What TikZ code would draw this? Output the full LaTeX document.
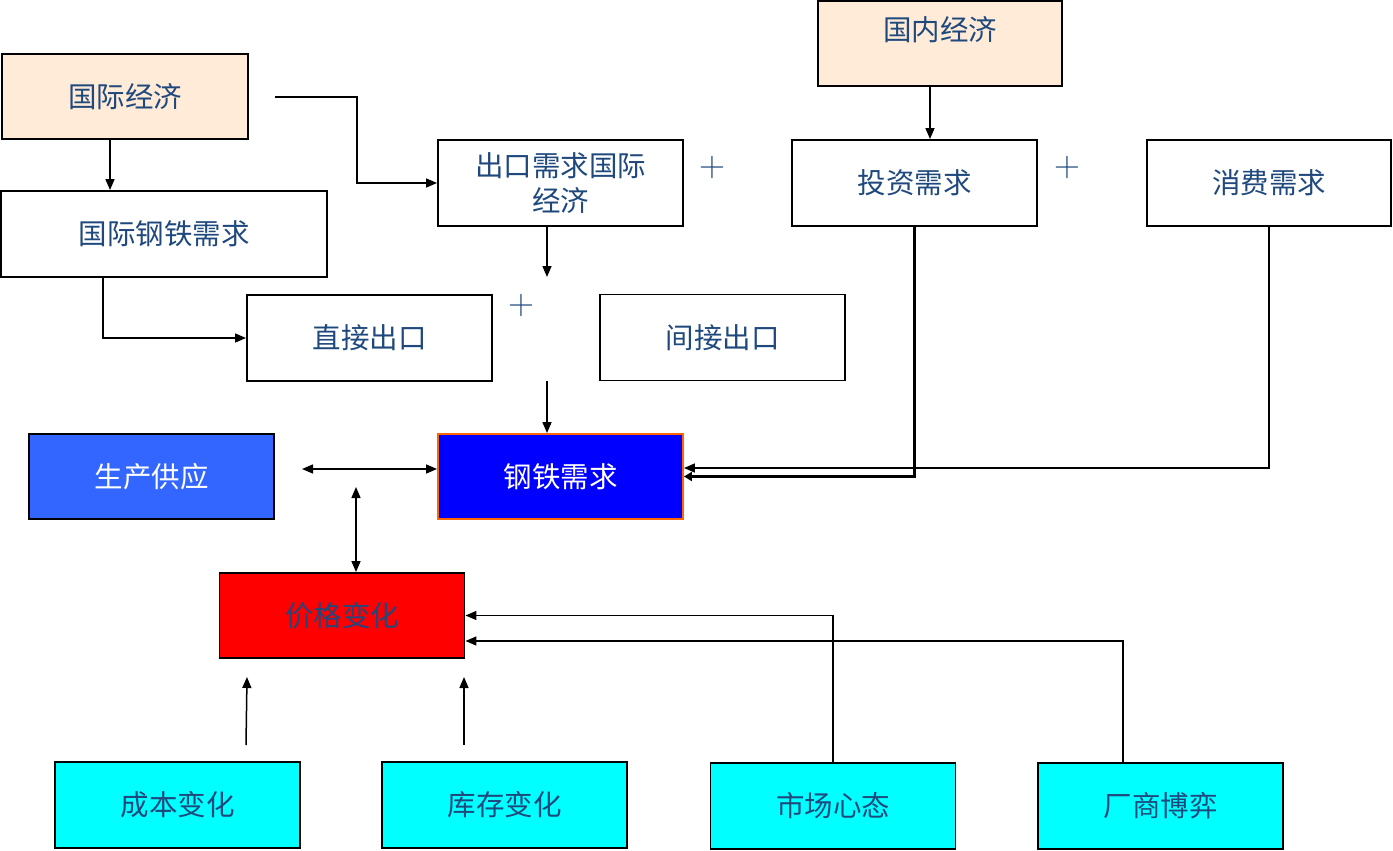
\documentclass[tikz,border=0pt]{standalone}
\usepackage{fontspec}
\newfontfamily\cjk{Noto Sans CJK SC}
\usepackage{tikz}
\usetikzlibrary{arrows.meta,positioning}
\definecolor{txtblue}{HTML}{1F497D}
\definecolor{bisque}{HTML}{FFEBD7}
\definecolor{supplyblue}{HTML}{3366FF}
\definecolor{edgeorange}{HTML}{FF6600}
\definecolor{factorcyan}{HTML}{00FFFF}
\definecolor{pricered}{HTML}{FF0000}
\definecolor{steelblue}{HTML}{0000FF}

\begin{document}
\begin{tikzpicture}[x=1pt,y=-1pt,
    box/.style={draw, line width=1.9pt, minimum width=245pt, minimum height=86pt,
                inner sep=0pt, text=txtblue, font=\cjk\fontsize{28.5}{35}\selectfont, align=center},
    plus/.style={text=txtblue, font=\fontsize{36}{40}\selectfont},
    arr/.style={line width=1.5pt, -{Triangle[length=11pt,width=9pt]}},
    darr/.style={line width=1.5pt, {Triangle[length=11pt,width=9pt]}-{Triangle[length=11pt,width=9pt]}},
    thickarr/.style={line width=3.8pt, -{Triangle[length=8pt,width=9pt]}}]
    \useasboundingbox (0,0) rectangle (1393,851);

    % economy and demand boxes
    \node [box, fill=bisque, minimum width=246pt, minimum height=85pt] (intl) at (125,96.5) {国际经济};
    \node [box, minimum width=326pt] (intlsteel) at (164,234) {国际钢铁需求};
    \node [box] (export) at (560.5,183) {出口需求国际\\经济};
    \node [box, fill=bisque, minimum width=244pt, minimum height=85pt, text depth=30pt] (domestic) at (940,43.5) {国内经济};
    \node [box] (invest) at (914.5,183) {投资需求};
    \node [box, minimum width=244pt] (consume) at (1269,183) {消费需求};
    \node [box] (direct) at (369.5,338) {直接出口};
    \node [box] (indirect) at (722.5,337.5) {间接出口};

    % supply, demand and price
    \node [box, fill=supplyblue, text=white, minimum height=85pt] (supply) at (151.5,476.5) {生产供应};
    \node [box, fill=steelblue, draw=edgeorange, text=white, minimum height=85pt] (steel) at (560.5,476.5) {钢铁需求};
    \node [box, fill=pricered, minimum height=85pt] (price) at (342,615.5) {价格变化};

    % price factors
    \node [box, fill=factorcyan] (cost) at (177.5,805) {成本变化};
    \node [box, fill=factorcyan] (stock) at (504.5,805) {库存变化};
    \node [box, fill=factorcyan] (mood) at (833,806) {市场心态};
    \node [box, fill=factorcyan] (game) at (1160.5,806) {厂商博弈};

    \node [plus] (plusa) at (712,168) {+};
    \node [plus] (plusb) at (1067,168) {+};
    \node [plus] (plusc) at (521,306) {+};

    % free ends
    \coordinate (ia) at ([xshift=-15pt]intl.south);
    \coordinate (ib) at (275,97);
    \coordinate (sa) at ([xshift=-61pt]intlsteel.south);
    \coordinate (ea) at ([xshift=-13.5pt]export.south);
    \coordinate (eb) at (547,277);
    \coordinate (ec) at (547,381);
    \coordinate (da) at ([xshift=-10pt]domestic.south);
    \coordinate (pa) at (302,469);
    \coordinate (pb) at (356,487);
    \coordinate (ca) at (246,745);
    \coordinate (cb) at (247,677);
    \coordinate (ka) at (464,745);
    \coordinate (kb) at (464,677);
    \coordinate (ga) at ([xshift=-37.5pt]game.north);

    \draw [arr] (ia) -- (ia |- intlsteel.north);
    \draw [arr] (ib) -- ++(82,0) |- (export.west);
    \draw [arr] (sa) |- (direct.west);
    \draw [arr] (ea) -- (eb);
    \draw [arr] (ec) -- (ec |- steel.north);
    \draw [arr] (da) -- (da |- invest.north);
    \draw [thickarr] (invest.south) |- (steel.east);
    \draw [arr] (consume.south) |- ([yshift=8.5pt]steel.east);
    \draw [darr] (pa) -- (pa -| steel.west);
    \draw [darr] (pb) -- (pb |- price.north);
    \draw [arr] (mood.north) |- (price.east);
    \draw [arr] (ga) |- ([yshift=-25.5pt]price.east);
    \draw [arr] (ca) -- (cb);
    \draw [arr] (ka) -- (kb);
\end{tikzpicture}
\end{document}
